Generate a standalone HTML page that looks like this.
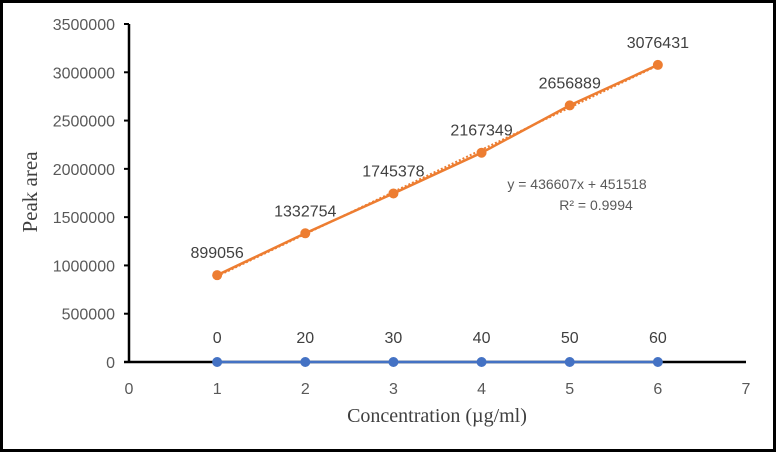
<!DOCTYPE html>
<html><head><meta charset="utf-8"><style>
html,body{margin:0;padding:0;background:#fff}
svg{display:block}
</style></head><body>
<svg id="chart" width="776" height="452" xmlns="http://www.w3.org/2000/svg">
<rect x="1.5" y="1.5" width="773" height="449" fill="#fff" stroke="#000" stroke-width="3"/>
<g id="g"></g>
</svg>
<script>
const xs = [1,2,3,4,5,6];
const peakAreas = [899056,1332754,1745378,2167349,2656889,3076431];
const blankValues = [0,0,0,0,0,0];
const blankLabels = ['0','20','30','40','50','60'];
const yTicks = [0,500000,1000000,1500000,2000000,2500000,3000000,3500000];
const xTicks = [0,1,2,3,4,5,6,7];
const slope = 436607, intercept = 451518;

const X0=129, X1=746, Y0=362, Y1=24;
const sx = v => X0 + (v-0)/(7-0)*(X1-X0);
const sy = v => Y0 - v/3500000*(Y0-Y1);
const g = document.getElementById('g');
const NS='http://www.w3.org/2000/svg';
function mk(tag, attrs, text){const e=document.createElementNS(NS,tag);for(const k in attrs)e.setAttribute(k,attrs[k]);if(text!==undefined)e.textContent=text;g.appendChild(e);return e;}
const lab = {fill:'#595959','font-family':'Liberation Sans, sans-serif','font-size':'16'};

yTicks.forEach(t=>{
  const tk=mk('line',{x1:X0-5,x2:X0,y1:sy(t),y2:sy(t),stroke:'#000','stroke-width':2});
  
  
  const e=mk('text',Object.assign({x:X0-14,y:sy(t)+6,'text-anchor':'end'},lab),String(t));
  
  
});
xTicks.forEach(t=>{
  const e=mk('text',Object.assign({x:sx(t),y:Y0+32,'text-anchor':'middle'},lab),String(t));
  
  
});
let a=mk('line',{x1:X0,x2:X0,y1:Y1,y2:Y0+1,stroke:'#000','stroke-width':2.5});


a=mk('line',{x1:X0-5,x2:X1,y1:Y0,y2:Y0,stroke:'#000','stroke-width':2.5});



a=mk('line',{x1:sx(1),y1:sy(slope*1+intercept),x2:sx(6),y2:sy(slope*6+intercept),stroke:'#ED7D31','stroke-width':2,'stroke-dasharray':'2 2'});



a=mk('polyline',{points:xs.map((x,i)=>sx(x)+','+sy(peakAreas[i])).join(' '),fill:'none',stroke:'#ED7D31','stroke-width':2.5});


xs.forEach((x,i)=>{
  const c=mk('circle',{cx:sx(x),cy:sy(peakAreas[i]),r:5,fill:'#ED7D31'});
  
  
  const t=mk('text',Object.assign({x:sx(x),y:sy(peakAreas[i])-17,'text-anchor':'middle'},lab,{fill:'#404040'}),String(peakAreas[i]));
  
  
});
a=mk('polyline',{points:xs.map((x,i)=>sx(x)+','+sy(blankValues[i])).join(' '),fill:'none',stroke:'#4472C4','stroke-width':2.5});


xs.forEach((x,i)=>{
  const c=mk('circle',{cx:sx(x),cy:sy(blankValues[i]),r:5,fill:'#4472C4'});
  
  
  const t=mk('text',Object.assign({x:sx(x),y:sy(blankValues[i])-19,'text-anchor':'middle'},lab,{fill:'#404040'}),blankLabels[i]);
  
  
});
a=mk('text',Object.assign({x:577,y:189,'text-anchor':'middle'},lab,{'font-size':'14'}),'y = 436607x + 451518');


a=mk('text',Object.assign({x:596,y:210,'text-anchor':'middle'},lab,{'font-size':'14'}),'R² = 0.9994');


a=mk('text',{x:437,y:422,'text-anchor':'middle',fill:'#404040','font-family':'Liberation Serif, serif','font-size':'20'},'Concentration (µg/ml)');


a=mk('text',{x:37,y:192,'text-anchor':'middle',fill:'#404040','font-family':'Liberation Serif, serif','font-size':'21',transform:'rotate(-90 37 192)'},'Peak area');


</script>
</body></html>
